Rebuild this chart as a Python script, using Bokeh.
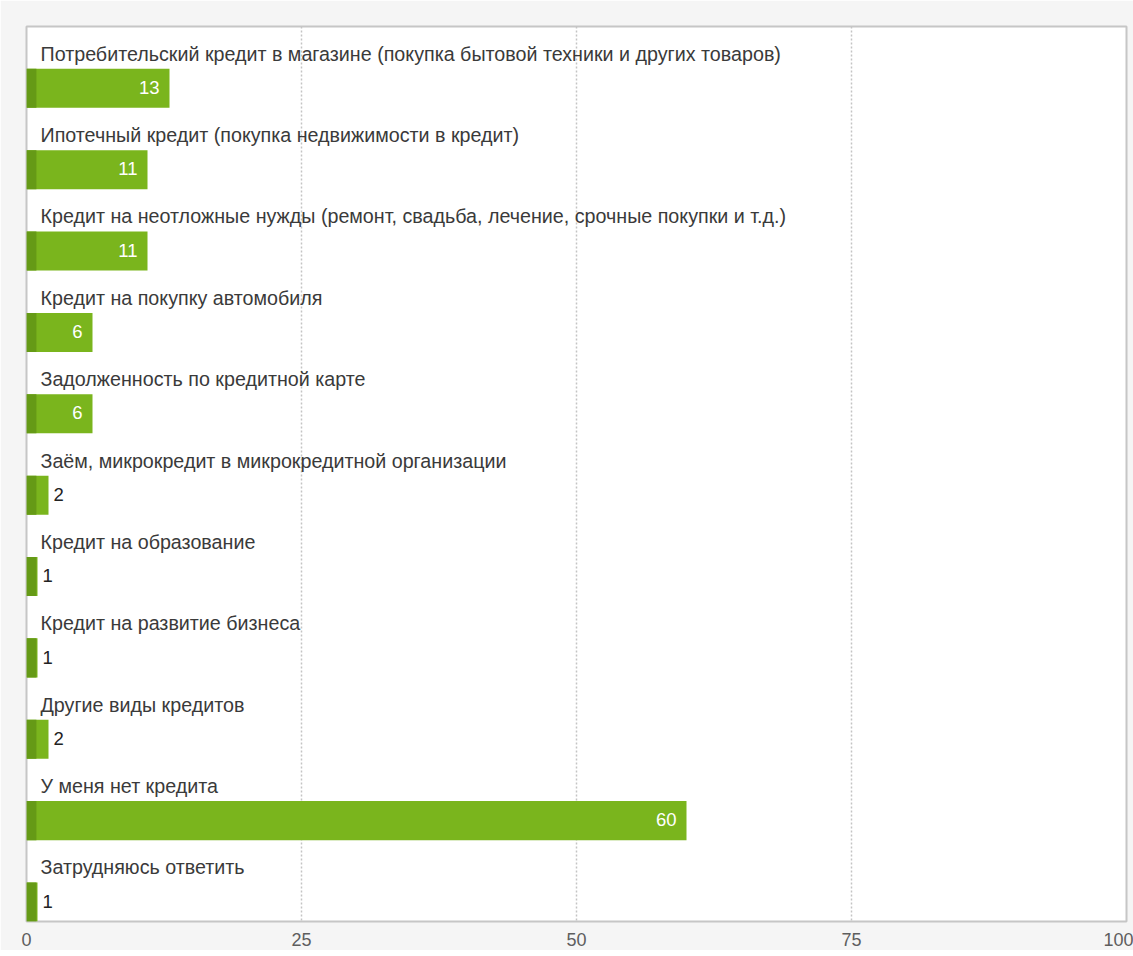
import numpy as np
from bokeh.plotting import figure
from bokeh.models import Range1d, ColumnDataSource, FixedTicker
from bokeh.core.properties import value
from bokeh.embed import file_html
from bokeh.resources import INLINE

categories = [
    "Потребительский кредит в магазине (покупка бытовой техники и других товаров)",
    "Ипотечный кредит (покупка недвижимости в кредит)",
    "Кредит на неотложные нужды (ремонт, свадьба, лечение, срочные покупки и т.д.)",
    "Кредит на покупку автомобиля",
    "Задолженность по кредитной карте",
    "Заём, микрокредит в микрокредитной организации",
    "Кредит на образование",
    "Кредит на развитие бизнеса",
    "Другие виды кредитов",
    "У меня нет кредита",
    "Затрудняюсь ответить",
]
values = [13, 11, 11, 6, 6, 2, 1, 1, 2, 60, 1]
x_ticks = [0, 25, 50, 75, 100]

n = len(categories)
idx = np.arange(n)
vals = np.array(values, dtype=float)
FONT = "Liberation Sans"

src = ColumnDataSource(dict(
    label=categories,
    val=vals,
    stripe=np.minimum(vals, 0.9),
    ybar=idx + 0.76,
    ylab=idx + 0.335,
    zero=np.zeros(n),
))

p = figure(width=1133, height=950, output_backend="svg", toolbar_location=None,
           x_range=Range1d(0, 100), y_range=Range1d(n, 0),
           min_border_left=26, min_border_top=26, min_border_right=7, min_border_bottom=29)

p.background_fill_color = "white"
p.border_fill_color = "#f5f5f5"
p.outline_line_color = "#c6c6c6"
p.outline_line_width = 2

p.yaxis.visible = False
p.ygrid.grid_line_color = None
p.xgrid.ticker = FixedTicker(ticks=[25, 50, 75])
p.xgrid.grid_line_color = "#c4c4c4"
p.xgrid.grid_line_dash = "2 2"
p.xgrid.grid_line_width = 1.5

p.xaxis.ticker = FixedTicker(ticks=x_ticks)
p.xaxis.axis_line_color = None
p.xaxis.major_tick_line_color = None
p.xaxis.minor_tick_line_color = None
p.xaxis.major_tick_out = 0
p.xaxis.major_label_text_font = FONT
p.xaxis.major_label_text_font_size = "18px"
p.xaxis.major_label_text_color = "#5e5e5e"
p.xaxis.major_label_standoff = 11

p.hbar(y="ybar", left=0, right="val", height=0.48, source=src,
       fill_color="#7ab51d", line_color=None)
p.hbar(y="ybar", left=0, right="stripe", height=0.48, source=src,
       fill_color="#659a16", line_color=None)

p.text(x="zero", y="ylab", text="label", source=src, x_offset=14,
       text_font=value(FONT), text_font_size="19.7px", text_color="#3a3a3a",
       text_align="left", text_baseline="middle")

inside = vals >= 5
src_in = ColumnDataSource(dict(x=vals[inside], y=(idx + 0.75)[inside],
                               t=[str(v) for v, f in zip(values, inside) if f]))
src_out = ColumnDataSource(dict(x=vals[~inside], y=(idx + 0.75)[~inside],
                                t=[str(v) for v, f in zip(values, inside) if not f]))
p.text(x="x", y="y", text="t", source=src_in, x_offset=-10,
       text_font=value(FONT), text_font_size="18.5px", text_color="white",
       text_align="right", text_baseline="middle")
p.text(x="x", y="y", text="t", source=src_out, x_offset=5,
       text_font=value(FONT), text_font_size="18.5px", text_color="#222222",
       text_align="left", text_baseline="middle")

open("out.html", "w").write(file_html(p, INLINE))
